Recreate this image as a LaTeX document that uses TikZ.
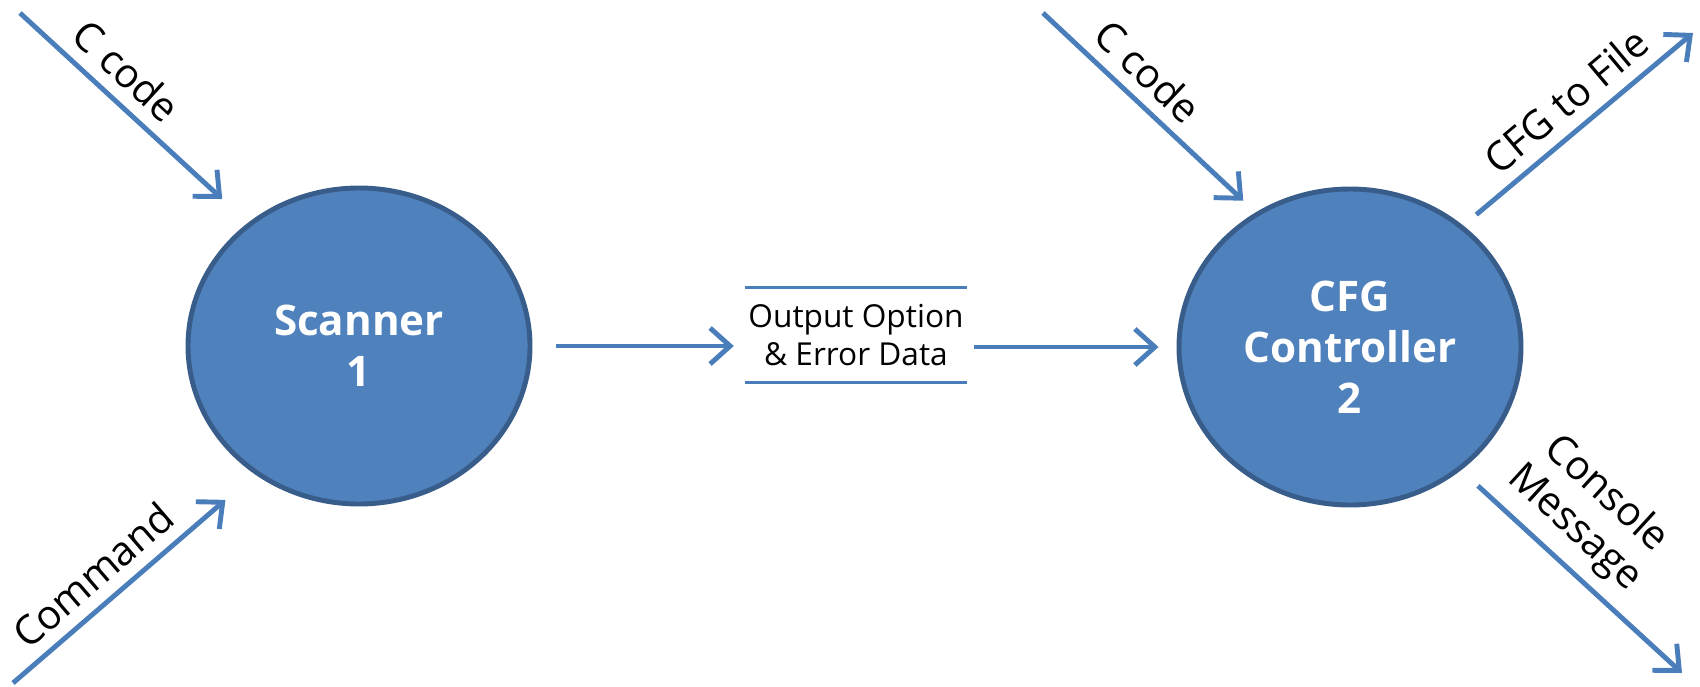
\documentclass[tikz,border=0pt]{standalone}
\usepackage{fontspec}
\setmainfont{Open Sans}
\usetikzlibrary{shapes.geometric,arrows.meta}
\definecolor{procblue}{RGB}{79,129,189}
\definecolor{procedge}{RGB}{56,93,138}
\definecolor{flowblue}{RGB}{74,126,187}
\begin{document}
\begin{tikzpicture}[
		process/.style={ellipse,draw=procedge,line width=1.4pt,fill=procblue,minimum width=3.42cm,minimum height=3.16cm,text=white,font=\fontsize{12}{14.5}\selectfont\bfseries,align=center},
		datastore/.style={inner xsep=0pt,minimum width=2.21cm,minimum height=0.94cm,font=\fontsize{9}{11}\selectfont,align=center},
		flow/.style={draw=flowblue,line width=1.4pt,-{Straight Barb[length=2mm,width=3.6mm]}},
		flowtext/.style={sloped,above,font=\fontsize{11.5}{13}\selectfont,align=center}
	]
	\useasboundingbox (0,0) rectangle (17,6.86);
	\node[process] (scanner) at (3.59,3.40) {Scanner\\1};
	\node[process] (controller) at (13.50,3.39) {CFG\\Controller\\2};
	\node[datastore] (data) at (8.56,3.51) {Output Option\\\& Error Data};
	\draw[flowblue,line width=1pt] (data.north west) -- (data.north east);
	\draw[flowblue,line width=1pt] (data.south west) -- (data.south east);
	\coordinate (ccode1) at (0.20,6.73);
	\coordinate (cmd) at (0.13,0.03);
	\coordinate (ccode2) at (10.43,6.73);
	\coordinate (tofile) at (16.93,6.53);
	\coordinate (console) at (16.82,0.13);
	\draw[flow,shorten >=3.5mm] (ccode1) -- node[flowtext,pos=0.38] {C code} (scanner.132);
	\draw[flow,shorten >=3.9mm] (cmd) -- node[flowtext,pos=0.41] {Command} (scanner.231);
	\draw[flow,shorten <=2.4mm,shorten >=1.1mm] (scanner.east) -- (scanner.east -| data.west);
	\draw[flow,shorten <=0.7mm,shorten >=1.8mm] (controller.west -| data.east) -- (controller.west);
	\draw[flow,shorten >=1.7mm] (ccode2) -- node[flowtext,pos=0.4] {C code} (controller.125);
	\draw[flow,shorten <=1.7mm] (controller.47) -- node[flowtext,pos=0.53] {CFG to File} (tofile);
	\draw[flow,shorten <=2.3mm] (controller.312) -- node[flowtext,pos=0.41] {Console\\Message} (console);
\end{tikzpicture}
\end{document}
